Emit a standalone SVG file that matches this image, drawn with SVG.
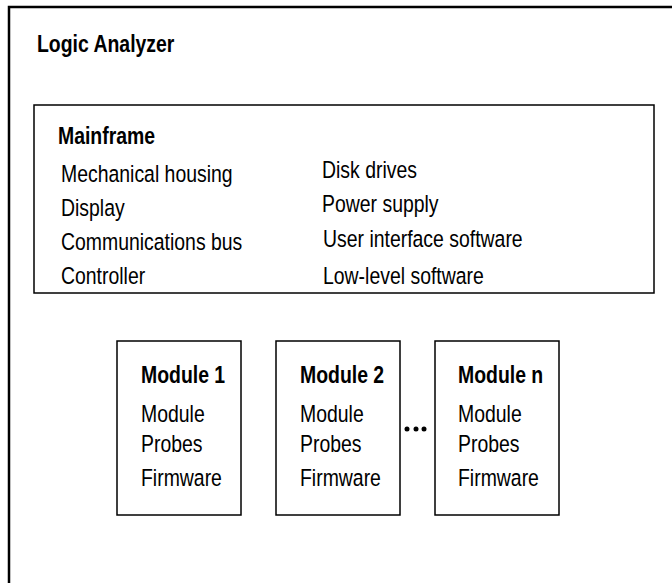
<svg xmlns="http://www.w3.org/2000/svg" width="672" height="583" viewBox="0 0 672 583">
<style>
text{font-family:"Liberation Sans","Arial",sans-serif;font-size:23.7px;fill:#000}
.b{font-weight:bold}
.box{fill:#fff;stroke:#000;stroke-width:1.5}
</style>
<rect width="672" height="583" fill="#fff"/>
<g id="logic-analyzer">
<path d="M9,590 V7 H680" fill="none" stroke="#000" stroke-width="2.5"/>
<text class="b" transform="translate(37,52) scale(0.82,1)">Logic Analyzer</text>
</g>
<g id="mainframe">
<rect class="box" x="34" y="105" width="620" height="188"/>
<text class="b" transform="translate(58,144) scale(0.82,1)">Mainframe</text>
<text transform="translate(61,182) scale(0.82,1)">Mechanical housing</text>
<text transform="translate(61,216) scale(0.82,1)">Display</text>
<text transform="translate(61,250) scale(0.82,1)">Communications bus</text>
<text transform="translate(61,284) scale(0.82,1)">Controller</text>
<text transform="translate(322,178) scale(0.82,1)">Disk drives</text>
<text transform="translate(322,212) scale(0.82,1)">Power supply</text>
<text transform="translate(323,247) scale(0.82,1)">User interface software</text>
<text transform="translate(323,284) scale(0.82,1)">Low-level software</text>
</g>
<g id="module1">
<rect class="box" x="117" y="341" width="124" height="174"/>
<text class="b" transform="translate(141,383) scale(0.82,1)">Module 1</text>
<text transform="translate(141,422) scale(0.82,1)">Module</text>
<text transform="translate(141,452) scale(0.82,1)">Probes</text>
<text transform="translate(141,486) scale(0.82,1)">Firmware</text>
</g>
<g id="module2">
<rect class="box" x="276" y="341" width="124" height="174"/>
<text class="b" transform="translate(300,383) scale(0.82,1)">Module 2</text>
<text transform="translate(300,422) scale(0.82,1)">Module</text>
<text transform="translate(300,452) scale(0.82,1)">Probes</text>
<text transform="translate(300,486) scale(0.82,1)">Firmware</text>
</g>
<g id="modulen">
<rect class="box" x="435" y="341" width="124" height="174"/>
<text class="b" transform="translate(458,383) scale(0.82,1)">Module n</text>
<text transform="translate(458,422) scale(0.82,1)">Module</text>
<text transform="translate(458,452) scale(0.82,1)">Probes</text>
<text transform="translate(458,486) scale(0.82,1)">Firmware</text>
</g>
<g id="connectors">
<g id="ellipsis" fill="#000">
<circle cx="407" cy="429" r="2.5"/>
<circle cx="416" cy="429" r="2.5"/>
<circle cx="424" cy="429" r="2.5"/>
</g>
</g>
</svg>
